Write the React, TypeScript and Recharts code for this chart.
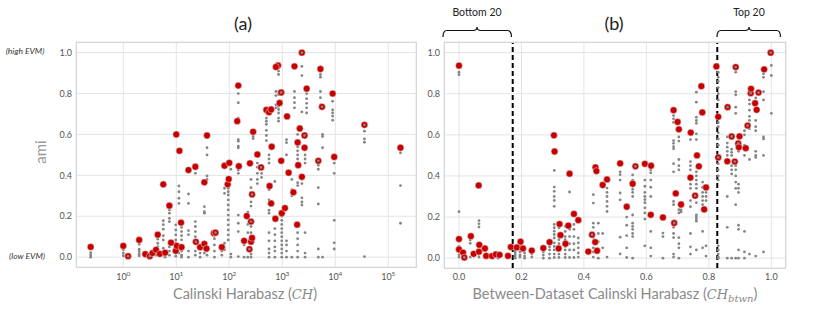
import React from "react";
import {
  ScatterChart,
  Scatter,
  XAxis,
  YAxis,
  CartesianGrid,
  ReferenceLine,
} from "recharts";

// (a) best ami per dataset, x = log10(CH)
const redA: [number, number][] = [
  [-0.615, 0.05], [0.0, 0.055], [0.09, 0.005], [0.3, 0.084], [0.415, 0.015],
  [0.5, 0.005], [0.55, 0.02], [0.617, 0.036], [0.65, 0.11], [0.69, 0.016],
  [0.755, 0.356], [0.79, 0.022], [0.87, 0.252], [0.9, 0.071], [0.99, 0.031],
  [1.0, 0.6], [1.01, 0.055], [1.06, 0.52], [1.09, 0.169], [1.1, 0.049],
  [1.23, 0.426], [1.36, 0.442], [1.37, 0.075], [1.45, 0.049], [1.53, 0.366],
  [1.53, 0.065], [1.57, 0.042], [1.58, 0.595], [1.71, 0.117], [1.74, 0.12],
  [1.86, 0.049], [1.91, 0.447], [1.97, 0.356], [1.99, 0.382], [2.0, 0.461],
  [2.15, 0.665], [2.17, 0.839], [2.18, 0.445], [2.28, 0.08], [2.33, 0.201],
  [2.38, 0.039], [2.39, 0.459], [2.41, 0.076], [2.41, 0.174], [2.43, 0.307],
  [2.43, 0.094], [2.45, 0.613], [2.53, 0.502], [2.6, 0.439], [2.7, 0.72],
  [2.75, 0.709], [2.76, 0.348], [2.79, 0.722], [2.79, 0.263], [2.8, 0.54],
  [2.87, 0.188], [2.92, 0.937], [2.88, 0.93], [2.95, 0.754], [2.98, 0.805],
  [2.98, 0.471], [2.99, 0.215], [3.05, 0.24], [3.09, 0.688], [3.12, 0.413],
  [3.21, 0.317], [3.23, 0.933], [3.28, 0.159], [3.29, 0.561], [3.3, 0.45],
  [3.33, 0.629], [3.37, 1.0], [3.37, 0.393], [3.42, 0.595], [3.42, 0.535],
  [3.46, 0.824], [3.68, 0.471], [3.72, 0.92], [3.75, 0.735], [3.95, 0.8],
  [3.98, 0.49], [4.55, 0.647], [5.23, 0.535],
];

// (a) other runs, columns of [log10(CH), ami values]
const grayA: [number, number[]][] = [
  [-0.615, [0.022, 0.011, 0.0]],
  [0.0, [0.036, 0.02, 0.007]],
  [0.09, [0.0]],
  [0.3, [0.063, 0.039, 0.028, 0.016, 0.007]],
  [0.415, [0.005]],
  [0.5, [0.0]],
  [0.617, [0.024, 0.01]],
  [0.65, [0.088, 0.068, 0.052, 0.039]],
  [0.755, [0.178, 0.159, 0.137, 0.105, 0.084, 0.044, 0.01]],
  [0.79, [0.012, 0.0]],
  [0.87, [0.231, 0.215, 0.19, 0.174, 0.05, 0.03, 0.01]],
  [0.99, [0.158, 0.133, 0.109, 0.084, 0.068, 0.02, 0.005]],
  [1.05, [0.348, 0.32, 0.288, 0.263, 0.04, 0.02]],
  [1.1, [0.146, 0.125, 0.105, 0.085, 0.03, 0.01, 0.0]],
  [1.23, [0.309, 0.263, 0.13, 0.11, 0.03, 0.0]],
  [1.36, [0.41, 0.174, 0.15, 0.125, 0.1, 0.03, 0.01]],
  [1.45, [0.02, 0.0]],
  [1.53, [0.247, 0.222, 0.215, 0.04, 0.02]],
  [1.58, [0.535, 0.5, 0.397, 0.38, 0.03, 0.01]],
  [1.72, [0.09, 0.06, 0.03, 0.0]],
  [1.86, [0.03, 0.01]],
  [1.91, [0.337, 0.312, 0.068, 0.036]],
  [1.98, [0.361, 0.337, 0.32, 0.304, 0.28, 0.255, 0.231, 0.206, 0.182, 0.158, 0.133, 0.109, 0.084]],
  [2.03, [0.43, 0.015, 0.0]],
  [2.17, [0.8, 0.755, 0.68, 0.575, 0.567, 0.543, 0.535, 0.426, 0.41, 0.206, 0.166, 0.125, 0.003]],
  [2.28, [0.06, 0.0]],
  [2.35, [0.22, 0.19, 0.16, 0.12, 0.0]],
  [2.41, [0.38, 0.34, 0.27, 0.25, 0.15, 0.12, 0.08, 0.04, 0.015, 0.0]],
  [2.45, [0.58, 0.59]],
  [2.53, [0.46, 0.44, 0.41, 0.38, 0.36]],
  [2.61, [0.41, 0.39]],
  [2.7, [0.705, 0.68, 0.665, 0.65, 0.62, 0.595, 0.57]],
  [2.75, [0.5, 0.48, 0.46, 0.33, 0.28, 0.26, 0.23, 0.215, 0.12, 0.08, 0.04, 0.02, 0.0]],
  [2.86, [0.37, 0.14, 0.11, 0.08, 0.05, 0.03, 0.0]],
  [2.93, [0.925, 0.91, 0.893, 0.81, 0.795, 0.762, 0.738, 0.722, 0.705, 0.68, 0.665]],
  [2.88, [0.81, 0.79, 0.745, 0.73]],
  [2.99, [0.2, 0.18, 0.16, 0.14, 0.12, 0.1, 0.08, 0.06, 0.04, 0.02, 0.0]],
  [3.08, [0.575, 0.56, 0.5, 0.08, 0.06, 0.03, 0.0]],
  [3.18, [0.38, 0.33, 0.3, 0.0]],
  [3.23, [0.81, 0.78, 0.755, 0.73]],
  [3.29, [0.6, 0.57, 0.54, 0.52, 0.5, 0.48, 0.46, 0.364, 0.35, 0.12, 0.09, 0.06, 0.03, 0.0]],
  [3.37, [0.933, 0.888, 0.71, 0.38, 0.36, 0.29, 0.27, 0.255]],
  [3.43, [0.5, 0.48, 0.46, 0.12, 0.02, 0.0]],
  [3.46, [0.8, 0.775, 0.752, 0.73, 0.705]],
  [3.68, [0.45, 0.43, 0.34, 0.26, 0.04, 0.0]],
  [3.72, [0.893, 0.88, 0.81, 0.78, 0.745]],
  [3.76, [0.6, 0.59, 0.535, 0.0]],
  [3.95, [0.762, 0.72, 0.705, 0.69, 0.67]],
  [3.98, [0.46, 0.41, 0.18, 0.07, 0.04]],
  [4.55, [0.616, 0.578, 0.562, 0.003]],
  [5.23, [0.53, 0.51, 0.35, 0.166]],
];

// gray runs lying on top of a red marker in (a)
const grayTopA: [number, number][] = [
  [0.09, 0.005], [0.5, 0.005], [1.37, 0.075], [1.74, 0.12], [2.38, 0.039],
  [2.41, 0.174], [2.43, 0.307], [2.6, 0.439], [2.98, 0.805], [3.37, 1.0],
  [3.42, 0.595], [3.68, 0.471], [3.75, 0.735], [4.55, 0.647],
];

// (b) best ami per dataset, x = between-dataset CH
const redB: [number, number][] = [
  [0.0, 0.937], [0.0, 0.093], [0.0, 0.042], [0.013, 0.027], [0.017, 0.003],
  [0.038, 0.107], [0.047, 0.021], [0.063, 0.354], [0.064, 0.031], [0.065, 0.065],
  [0.083, 0.047], [0.087, 0.011], [0.106, 0.01], [0.118, 0.018], [0.13, 0.016],
  [0.157, 0.011], [0.166, 0.054], [0.185, 0.052], [0.197, 0.08], [0.205, 0.047],
  [0.233, 0.037], [0.27, 0.049], [0.29, 0.078], [0.304, 0.598], [0.306, 0.519],
  [0.319, 0.047], [0.322, 0.166], [0.325, 0.112], [0.341, 0.07], [0.35, 0.158],
  [0.354, 0.411], [0.368, 0.215], [0.382, 0.185], [0.414, 0.032], [0.426, 0.114],
  [0.436, 0.078], [0.437, 0.442], [0.44, 0.424], [0.442, 0.036], [0.46, 0.356],
  [0.474, 0.383], [0.516, 0.461], [0.537, 0.25], [0.556, 0.362], [0.565, 0.447],
  [0.595, 0.459], [0.614, 0.211], [0.615, 0.45], [0.653, 0.198], [0.687, 0.72],
  [0.689, 0.171], [0.694, 0.315], [0.7, 0.663], [0.704, 0.627], [0.711, 0.261],
  [0.741, 0.392], [0.742, 0.611], [0.756, 0.304], [0.762, 0.5], [0.768, 0.447],
  [0.776, 0.837], [0.779, 0.709], [0.785, 0.237], [0.791, 0.344], [0.824, 0.933],
  [0.83, 0.688], [0.83, 0.49], [0.859, 0.471], [0.86, 0.735], [0.873, 0.592],
  [0.883, 0.47], [0.886, 0.93], [0.894, 0.558], [0.896, 0.54], [0.898, 0.593],
  [0.918, 0.535], [0.924, 0.645], [0.934, 0.803], [0.935, 0.824], [0.948, 0.754],
  [0.953, 0.722], [0.959, 0.806], [0.977, 0.919], [0.998, 1.0],
];

const grayB: [number, number[]][] = [
  [0.0, [0.905, 0.893, 0.226, 0.057, 0.032, 0.016, 0.005]],
  [0.013, [0.01]],
  [0.036, [0.088, 0.072, 0.005]],
  [0.047, [0.01]],
  [0.064, [0.183, 0.167, 0.151, 0.04, 0.02, 0.005]],
  [0.086, [0.02, 0.003]],
  [0.11, [0.008]],
  [0.125, [0.005, 0.0]],
  [0.155, [0.02, 0.005]],
  [0.18, [0.05, 0.04, 0.03, 0.02, 0.01, 0.0]],
  [0.195, [0.06, 0.045, 0.03, 0.015, 0.005]],
  [0.21, [0.04, 0.025, 0.01, 0.0]],
  [0.233, [0.02, 0.005]],
  [0.27, [0.03, 0.015, 0.0]],
  [0.29, [0.055, 0.04, 0.02, 0.0]],
  [0.305, [0.427, 0.346, 0.325, 0.3, 0.281, 0.252, 0.164, 0.148, 0.131, 0.115, 0.098, 0.074, 0.057, 0.04, 0.02, 0.003]],
  [0.32, [0.164, 0.148, 0.12, 0.105, 0.09, 0.07, 0.04, 0.02, 0.003]],
  [0.34, [0.155, 0.13, 0.105, 0.09, 0.07, 0.057, 0.04, 0.02, 0.003]],
  [0.354, [0.322, 0.14, 0.105, 0.07, 0.04, 0.003]],
  [0.368, [0.164, 0.14, 0.105, 0.07, 0.04, 0.003]],
  [0.382, [0.098, 0.074, 0.05, 0.025, 0.005]],
  [0.43, [0.309, 0.268, 0.17, 0.15, 0.12, 0.1, 0.05, 0.03, 0.005]],
  [0.446, [0.17, 0.12, 0.08, 0.03, 0.0]],
  [0.46, [0.12, 0.05]],
  [0.474, [0.341, 0.32, 0.3, 0.276, 0.252, 0.227, 0.005]],
  [0.516, [0.42, 0.406, 0.38, 0.317, 0.284, 0.102, 0.021]],
  [0.537, [0.2, 0.16, 0.11, 0.05, 0.003]],
  [0.556, [0.405, 0.38, 0.35, 0.335, 0.32, 0.3, 0.21, 0.17, 0.155, 0.14, 0.12, 0.105, 0.0]],
  [0.595, [0.38, 0.35, 0.32, 0.3, 0.285, 0.27, 0.245, 0.22, 0.19, 0.06]],
  [0.614, [0.43, 0.415, 0.38, 0.345, 0.3, 0.13, 0.05, 0.01]],
  [0.653, [0.122, 0.105, 0.0]],
  [0.687, [0.694, 0.678, 0.661, 0.572, 0.559, 0.543, 0.532, 0.46, 0.42, 0.276, 0.26, 0.15, 0.12, 0.1, 0.02, 0.005]],
  [0.704, [0.59, 0.57, 0.48, 0.45, 0.43, 0.236, 0.22, 0.1, 0.07, 0.05, 0.0]],
  [0.711, [0.25, 0.235, 0.225]],
  [0.741, [0.577, 0.47, 0.45, 0.43, 0.38, 0.36, 0.34, 0.28, 0.25, 0.12, 0.055, 0.02]],
  [0.76, [0.808, 0.759, 0.686, 0.67, 0.656, 0.605, 0.577, 0.42, 0.4, 0.38, 0.36, 0.34, 0.3, 0.27, 0.21, 0.2, 0.19, 0.18, 0.04]],
  [0.78, [0.37, 0.345, 0.32, 0.3, 0.28, 0.26, 0.13, 0.05]],
  [0.791, [0.32, 0.3, 0.28, 0.06, 0.01]],
  [0.83, [0.905, 0.88, 0.86, 0.83, 0.8, 0.77, 0.66, 0.64, 0.61, 0.58, 0.55, 0.48, 0.46, 0.43, 0.4, 0.38, 0.06, 0.04, 0.02, 0.005, 0.0]],
  [0.859, [0.59, 0.56, 0.54, 0.52, 0.5, 0.3, 0.15, 0.0]],
  [0.873, [0.53, 0.515, 0.5, 0.45, 0.43, 0.41, 0.0]],
  [0.886, [0.922, 0.905, 0.81, 0.795, 0.735, 0.705, 0.45, 0.43, 0.4, 0.37, 0.34, 0.26, 0.0]],
  [0.895, [0.54, 0.52, 0.36, 0.34, 0.32, 0.16, 0.14, 0.04, 0.0]],
  [0.914, [0.62, 0.6, 0.55, 0.53, 0.5, 0.13, 0.03, 0.0]],
  [0.93, [0.77, 0.75, 0.72, 0.69, 0.67, 0.65, 0.63, 0.48, 0.02]],
  [0.95, [0.78, 0.73, 0.67, 0.64, 0.62, 0.52, 0.5, 0.49, 0.01]],
  [0.975, [0.897, 0.88, 0.81, 0.77, 0.59, 0.58, 0.5, 0.03]],
  [1.0, [0.938, 0.889, 0.705]],
];

const grayTopB: [number, number][] = [
  [0.017, 0.003], [0.426, 0.114], [0.565, 0.447], [0.689, 0.171], [0.756, 0.304],
  [0.83, 0.49], [0.86, 0.735], [0.873, 0.592], [0.883, 0.47], [0.886, 0.93],
  [0.894, 0.558], [0.924, 0.645], [0.934, 0.803], [0.959, 0.806], [0.998, 1.0],
];

const decadeTicks = [0, 1, 2, 3, 4, 5];
const amiTicks = [0, 0.2, 0.4, 0.6, 0.8, 1.0];
const btwnTicks = [0, 0.2, 0.4, 0.6, 0.8, 1.0];
const cutoffs = [0.172, 0.827];

const RED = "#c40000";
const GRAY = "#858585";
const FONT = "Lato, 'Open Sans', sans-serif";

const pts = (arr: [number, number][]) => arr.map(([x, y]) => ({ x, y }));
const cols = (arr: [number, number[]][]) =>
  arr.flatMap(([x, ys]) => ys.map((y) => ({ x, y })));

const redDot = (p: any) => (
  <circle cx={p.cx} cy={p.cy} r={3.4} fill={RED} stroke="#f4dede" strokeWidth={0.5} />
);
const grayDot = (p: any) => <circle cx={p.cx} cy={p.cy} r={1.4} fill={GRAY} />;

const tickStyle = { fontSize: 9, fill: "#555", fontFamily: FONT };

function DecadeTick({ x, y, payload }: any) {
  return (
    <text x={x} y={y} dy={7} textAnchor="middle" fill="#555" fontFamily={FONT} fontSize={9}>
      <tspan>10</tspan>
      <tspan dy={-4} fontSize={6.5}>{payload.value}</tspan>
    </text>
  );
}

const box = (left: number, top: number, w: number, h: number): React.CSSProperties => ({
  position: "absolute", left, top, width: w, height: h,
  border: "1px solid #d6d6d6", boxSizing: "border-box", pointerEvents: "none",
});

const math: React.CSSProperties = { fontFamily: "'DejaVu Serif', serif", fontStyle: "italic", fontSize: 13 };

export default function App() {
  return (
    <div style={{ position: "absolute", left: 0, top: 0, width: 830, height: 312, background: "#fff", fontFamily: FONT }}>
      <div style={{ position: "absolute", left: 0, top: 0 }}>
        <ScatterChart width={420} height={312} margin={{ top: 42, right: 4, bottom: 0, left: 0 }}>
          <CartesianGrid stroke="#e4e4e4" />
          <XAxis
            type="number" dataKey="x" domain={[-0.892, 5.523]} ticks={decadeTicks}
            allowDataOverflow axisLine={false} tickLine={false} tickSize={0} tickMargin={6}
            height={45} tick={<DecadeTick />}
          />
          <YAxis
            type="number" dataKey="y" domain={[-0.048, 1.052]} ticks={amiTicks}
            allowDataOverflow axisLine={false} tickLine={false} tickSize={0} tickMargin={4}
            width={76} tick={tickStyle} tickFormatter={(v: number) => v.toFixed(1)}
          />
          <Scatter data={cols(grayA)} shape={grayDot} isAnimationActive={false} />
          <Scatter data={pts(redA)} shape={redDot} isAnimationActive={false} />
          <Scatter data={pts(grayTopA)} shape={grayDot} isAnimationActive={false} />
        </ScatterChart>
      </div>

      <div style={{ position: "absolute", left: 420, top: 0 }}>
        <ScatterChart width={410} height={312} margin={{ top: 42, right: 44, bottom: 0, left: 0 }}>
          <CartesianGrid stroke="#e4e4e4" />
          <XAxis
            type="number" dataKey="x" domain={[-0.048, 1.047]} ticks={btwnTicks}
            allowDataOverflow axisLine={false} tickLine={false} tickSize={0} tickMargin={6}
            height={44} tick={tickStyle} tickFormatter={(v: number) => v.toFixed(1)}
          />
          <YAxis
            type="number" dataKey="y" domain={[-0.048, 1.052]} ticks={amiTicks}
            allowDataOverflow axisLine={false} tickLine={false} tickSize={0} tickMargin={4}
            width={24} tick={tickStyle} tickFormatter={(v: number) => v.toFixed(1)}
          />
          <Scatter data={cols(grayB)} shape={grayDot} isAnimationActive={false} />
          <Scatter data={pts(redB)} shape={redDot} isAnimationActive={false} />
          <Scatter data={pts(grayTopB)} shape={grayDot} isAnimationActive={false} />
          {cutoffs.map((c) => (
            <ReferenceLine key={c} x={c} stroke="#000" strokeWidth={2} strokeDasharray="5 3" />
          ))}
        </ScatterChart>
      </div>

      <div style={box(76, 42, 341, 226)} />
      <div style={box(444, 42, 342, 227)} />

      {/* titles */}
      <div style={{ position: "absolute", left: 223, top: 12, width: 40, textAlign: "center", fontSize: 18, color: "#222" }}>(a)</div>
      <div style={{ position: "absolute", left: 594, top: 12, width: 40, textAlign: "center", fontSize: 18, color: "#222" }}>(b)</div>

      {/* y annotations */}
      <div style={{ position: "absolute", left: 0, top: 46, width: 50, textAlign: "center", fontSize: 8.5, fontStyle: "italic", color: "#333" }}>(high EVM)</div>
      <div style={{ position: "absolute", left: 0, top: 251, width: 54, textAlign: "center", fontSize: 8.5, fontStyle: "italic", color: "#333" }}>(low EVM)</div>
      <div style={{ position: "absolute", left: 20, top: 143, width: 40, textAlign: "center", fontSize: 15, color: "#999", transform: "rotate(-90deg)" }}>ami</div>

      {/* x labels */}
      <div style={{ position: "absolute", left: 100, top: 285, width: 290, textAlign: "center", fontSize: 14.5, color: "#8a8a8a" }}>
        Calinski Harabasz (<span style={math}>CH</span>)
      </div>
      <div style={{ position: "absolute", left: 440, top: 285, width: 350, textAlign: "center", fontSize: 14.5, color: "#8a8a8a" }}>
        Between-Dataset Calinski Harabasz (<span style={math}>CH</span>
        <span style={{ ...math, fontSize: 10, position: "relative", top: 3 }}>btwn</span>)
      </div>

      {/* brackets */}
      <div style={{ position: "absolute", left: 437, top: 6, width: 80, textAlign: "center", fontSize: 10.5, color: "#222" }}>Bottom 20</div>
      <div style={{ position: "absolute", left: 719, top: 6, width: 60, textAlign: "center", fontSize: 10.5, color: "#222" }}>Top 20</div>
      <svg width={830} height={312} style={{ position: "absolute", left: 0, top: 0, pointerEvents: "none" }}>
        <path d="M443,37 Q443,30.5 447,30.5 L473,30.5 Q477,30.5 477,27 Q477,30.5 481,30.5 L507.5,30.5 Q511.5,30.5 511.5,37" fill="none" stroke="#111" strokeWidth={1.2} />
        <path d="M717,37 Q717,30.5 721,30.5 L745,30.5 Q749,30.5 749,27 Q749,30.5 753,30.5 L776.5,30.5 Q780.5,30.5 780.5,37" fill="none" stroke="#111" strokeWidth={1.2} />
      </svg>
    </div>
  );
}
